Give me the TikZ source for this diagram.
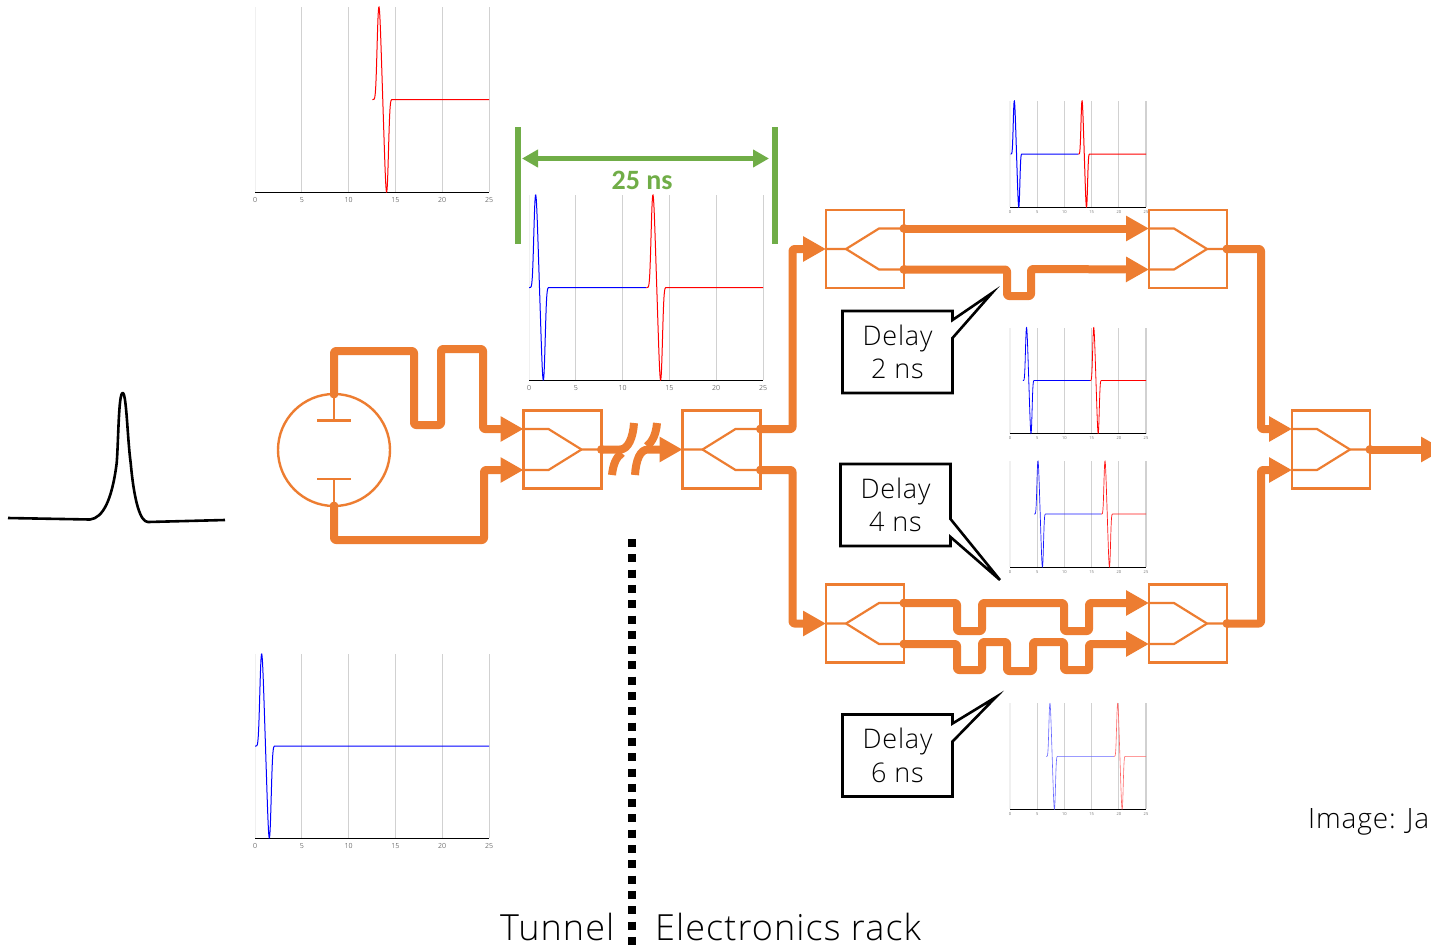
\documentclass[tikz,border=0pt]{standalone}
\usepackage{fontspec}
\setmainfont{Open Sans}[UprightFont={* Light}]
\newfontfamily\spacedfont{Open Sans}[UprightFont={* Light}, LetterSpace=3]
\newfontfamily\greenfont{Carlito}
\usetikzlibrary{arrows.meta,shapes.callouts,calc}
\definecolor{wireorange}{HTML}{ED7D31}
\definecolor{spangreen}{HTML}{70AD47}
\tikzset{
  wire/.style={draw=wireorange, line width=8pt, line join=round, rounded corners=2pt},
  feed/.style={wire, -{Triangle[length=23pt,width=24pt]}},
  thin wire/.style={draw=wireorange, line width=2.2pt, line join=round},
  port box/.style={draw=wireorange, line width=2.4pt, minimum size=78pt, inner sep=0pt, outer sep=0pt},
  delay box/.style={rectangle callout, draw=black, fill=white, line width=2.6pt, minimum width=110pt, minimum height=82pt,
    inner sep=0pt, outer sep=0pt, align=center, font=\spacedfont\fontsize{27}{33.5}\selectfont, callout pointer width=18pt},
  big text/.style={anchor=base west, inner sep=0pt, font=\spacedfont\fontsize{36}{40}\selectfont},
  pulse dot/.style={fill=wireorange, draw=none}
}
% two lines of a delay label, set a little low
\newcommand{\delaytext}[1]{\raisebox{-2.5pt}{Delay}\\\raisebox{-2.5pt}{#1}}
% one trace: centre of the pulse, end of the trace
\newcommand{\pulseline}[2]{
  plot[domain={#1-1.1}:{#1+1.1},samples=70,smooth] (\x,{pulse((\x-(#1))/0.41)}) -- (#2,0)
}
% grid, axis and tick numbers: font size, grid line width
\newcommand{\pulsegrid}[2]{
  \foreach \t/\g in {0/6,5/18,10/18,15/18,20/18,25/18}{
    \draw[black!\g, line width=#2pt] (\t,-1) -- (\t,1);
    \node[inner sep=0pt, text=black!85, font=\fontsize{#1}{#1}\selectfont] (tick\t) at ($(\t,-1)+(0,-#1*1.2pt)$) {\t};
  }
  \draw[black, line width=1pt] (0,-1) -- (25,-1);
}
\begin{document}
\begin{tikzpicture}[x=1pt, y=-1pt, declare function={pulse(\u)=-\u*exp((1-\u*\u*\u*\u)/4);}]
  \path[use as bounding box, fill=white] (0,0) rectangle (1431,948);
  \clip (0,0) rectangle (1431,948);

  % input pulse
  \draw[black, line width=2.6pt, line join=round] (8,518) -- (90,519.5)
    .. controls (103,518) and (112,500) .. (116.7,463)
    .. controls (118.5,440) and (118.5,393) .. (122.7,393)
    .. controls (126.5,393) and (127.5,440) .. (130.7,463)
    .. controls (134,500) and (140,522) .. (148,522) -- (225,520);

  % charts
  \begin{scope}[shift={(255,99.5)}, x=9.36pt, y=92.5pt]
    \pulsegrid{7}{1}
    \draw[red, line width=1pt] \pulseline{13.65}{25};
  \end{scope}
  \begin{scope}[shift={(255,746)}, x=9.36pt, y=92pt]
    \pulsegrid{7}{1}
    \draw[blue, line width=1pt] \pulseline{1.12}{25};
  \end{scope}
  \begin{scope}[shift={(529,287.5)}, x=9.36pt, y=92.5pt]
    \pulsegrid{7}{1}
    \draw[blue, line width=1pt] \pulseline{1.12}{12.55};
    \draw[red, line width=1pt] \pulseline{13.65}{25};
  \end{scope}
  \foreach \base/\shiftb/\shiftr/\lw/\op in {154/1.2/13.65/1/100, 380.5/3.45/15.8/0.8/100, 514/5.55/17.87/0.7/90, 756.3/7.75/20.2/0.6/60}{
    \begin{scope}[shift={(1010,\base)}, x=5.44pt, y=53pt]
      \pulsegrid{4}{1.2}
      \draw[blue!\op, line width=\lw pt] \pulseline{\shiftb}{\shiftr-1.1};
      \draw[red!\op, line width=\lw pt] \pulseline{\shiftr}{25};
    \end{scope}
  }

  % 25 ns span
  \coordinate (spanLtop) at (518,127);
  \coordinate (spanLbot) at (518,244);
  \coordinate (spanRtop) at (775,127);
  \coordinate (spanRbot) at (775,244);
  \coordinate (spanL) at (522,158.5);
  \coordinate (spanR) at (769,158.5);
  \draw[spangreen, line width=6pt] (spanLtop) -- (spanLbot);
  \draw[spangreen, line width=6pt] (spanRtop) -- (spanRbot);
  \draw[spangreen, line width=4.5pt, {Triangle[length=16pt,width=17pt]}-{Triangle[length=16pt,width=17pt]}] (spanL) -- (spanR);
  \node[text=spangreen, inner sep=0pt, font=\greenfont\bfseries\fontsize{28}{30}\selectfont] (spanlabel) at (642,180) {25 ns};

  % source
  \node[circle, draw=wireorange, line width=2.4pt, minimum size=112pt, inner sep=0pt, outer sep=0pt] (source) at (334,450) {};
  \coordinate (capup) at (334,420.5);
  \coordinate (capdown) at (334,479);
  \draw[thin wire] (source.north) -- (capup);
  \draw[thin wire] (source.south) -- (capdown);
  \draw[thin wire] ($(capup)+(-17,0)$) -- ($(capup)+(17,0)$);
  \draw[thin wire] ($(capdown)+(-17,0)$) -- ($(capdown)+(17,0)$);

  % combiners and splitters
  \foreach \name/\cx/\cy in {combA/562.5/449.5, combB/1188/249, combC/1188/623.5, combD/1331/449.5}{
    \node[port box] (\name) at (\cx,\cy) {};
    \coordinate (\name up) at (\cx-39,\cy-20.5);
    \coordinate (\name down) at (\cx-39,\cy+20.5);
    \coordinate (\name out) at (\cx+39,\cy);
    \draw[thin wire] (\name up) -- ++(25,0) -- (\cx+19,\cy) -- (\name out);
    \draw[thin wire] (\name down) -- ++(25,0) -- (\cx+19,\cy);
    \fill[pulse dot] (\name out) circle (4.5);
  }
  \foreach \name/\cx/\cy in {splitA/721.5/449.5, splitB/865/249, splitC/865/623.5}{
    \node[port box] (\name) at (\cx,\cy) {};
    \coordinate (\name in) at (\cx-39,\cy);
    \coordinate (\name up) at (\cx+39,\cy-20.5);
    \coordinate (\name down) at (\cx+39,\cy+20.5);
    \draw[thin wire] (\name in) -- (\cx-19,\cy) -- (\cx+14,\cy-20.5) -- (\name up);
    \draw[thin wire] (\cx-19,\cy) -- (\cx+14,\cy+20.5) -- (\name down);
    \fill[pulse dot] (\name up) circle (4.5);
    \fill[pulse dot] (\name down) circle (4.5);
  }
  \fill[pulse dot] (source.north) circle (4.5);
  \fill[pulse dot] (source.south) circle (4.5);

  % thick wires
  \draw[feed] (source.north) |- (414,351) |- (441,425) |- (483,349) |- (combAup);
  \draw[feed] (source.south) |- (484,540) |- (combAdown);
  \coordinate (breakA) at (634,423);
  \coordinate (breakB) at (612,475);
  \coordinate (breakC) at (622,453);
  \coordinate (breakD) at (635,475);
  \coordinate (breakE) at (657,423);
  \coordinate (breakF) at (647,446);
  \draw[wire] (combAout) -- (618,449.5) .. controls (628,449.5) and (633,438) .. (breakA);
  \draw[wire] (breakB) .. controls (613,465) and (616,457) .. (breakC);
  \draw[feed] (breakD) .. controls (636,460) and (640,449.5) .. (650,449.5) -- (splitAin);
  \draw[wire] (breakE) .. controls (656,435) and (652,442) .. (breakF);
  \draw[feed] (splitAup) -- ++(32,0) |- (splitBin);
  \draw[feed] (splitAdown) -- ++(32,0) |- (splitCin);
  \draw[feed] (splitBup) -- (combBup);
  \draw[feed] (splitBdown) -| (1007,296) -| (1031,269) -- (combBdown);
  \draw[feed] (splitCup) -| (957,631) -| (982,603) -| (1064,631) -| (1089,603) -- (combCup);
  \draw[feed] (splitCdown) -| (957,670) -| (982,642) -| (1007,671) -| (1033,642) -| (1064,670) -| (1089,644) -- (combCdown);
  \draw[feed] (combBout) -- ++(34,0) |- (combDup);
  \draw[feed] (combCout) -- ++(34,0) |- (combDdown);
  \coordinate (outend) at (1444,449.5);
  \draw[feed] (combDout) -- (outend);

  % delay labels
  \node[delay box, callout absolute pointer={(992,293)}] (delaytwo) at (897.5,352) {\delaytext{2 ns}};
  \node[delay box, callout absolute pointer={(1000,580)}] (delayfour) at (895.5,505) {\delaytext{4 ns}};
  \node[delay box, callout absolute pointer={(996,697)}] (delaysix) at (897.5,755.5) {\delaytext{6 ns}};

  % tunnel / rack
  \coordinate (walltop) at (632,539);
  \coordinate (wallbot) at (632,948);
  \draw[black, line width=8pt, dash pattern=on 8pt off 7.3pt] (walltop) -- (wallbot);
  \node[big text] (tunnel) at (500,940) {Tunnel};
  \node[big text] (rack) at (655,940) {Electronics rack};
  \node[anchor=base west, inner sep=0pt, font=\spacedfont\fontsize{28}{30}\selectfont] (credit) at (1308,828) {Image: Ja};
\end{tikzpicture}
\end{document}
